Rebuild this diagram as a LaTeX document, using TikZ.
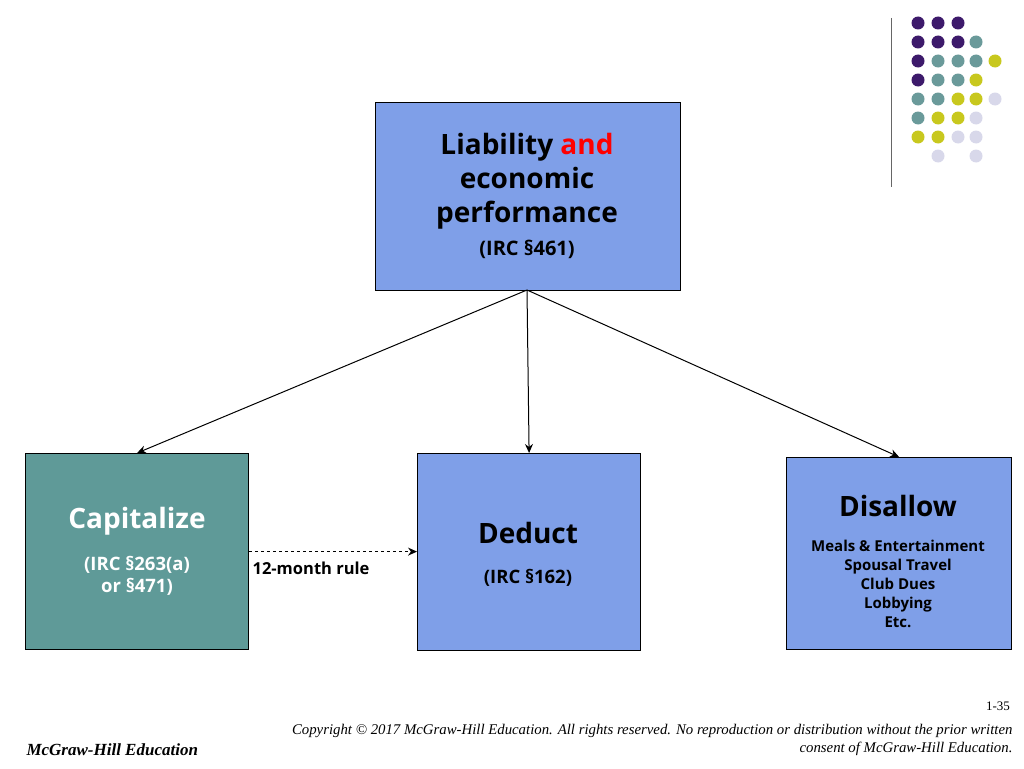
\documentclass[tikz,border=0pt]{standalone}
\usepackage{fontspec}
\setmainfont{Open Sans}
\newfontfamily\footfont{Liberation Serif}
\usetikzlibrary{arrows.meta}
\definecolor{boxblue}{HTML}{7F9FE8}
\definecolor{boxteal}{HTML}{5F9A98}
\definecolor{dotP}{HTML}{3D1A6B}
\definecolor{dotT}{HTML}{6A9A9A}
\definecolor{dotY}{HTML}{C8C81E}
\definecolor{dotL}{HTML}{D8D8EA}
\begin{document}
\begin{tikzpicture}[x=1pt,y=-1pt,font=\bfseries]
  \tikzstyle{box}=[draw=black,line width=1.2,fill=boxblue,align=center,anchor=north west,inner sep=0pt]
  \tikzstyle{link}=[draw,line width=1,-{Stealth[length=9,width=8]}]
  \useasboundingbox (0,0) rectangle (1024,768);
  % dots
  \foreach \c/\x/\y in {P/918/23,P/938/23,P/958/23,
    P/918/42,P/938/42,P/958/42,T/976/42,
    P/918/61,T/938/61,T/958/61,T/976/61,Y/995/61,
    P/918/80,T/938/80,T/958/80,Y/976/80,
    T/918/99,T/938/99,Y/958/99,Y/976/99,L/995/99,
    T/918/118,Y/938/118,Y/958/118,L/976/118,
    Y/918/137,Y/938/137,L/958/137,L/976/137,
    L/938/156,L/976/156}
    \fill[dot\c] (\x,\y) circle (6.5);
  \draw[gray!80!black] (891,18) -- (891,187);
  % boxes
  \node[box,minimum width=305,minimum height=188] (top) at (375,102) {};
  \node[font=\bfseries\fontsize{28}{34}\selectfont,align=center,anchor=north] at (527,130)
    {Liability \textcolor{red}{and}\\economic\\performance};
  \node[font=\bfseries\fontsize{20}{24}\selectfont] at (527,249) {(IRC §461)};
  \node[box,fill=boxteal,minimum width=223,minimum height=196] (cap) at (25,453) {};
  \node[text=white,font=\bfseries\fontsize{28}{30}\selectfont] at (137,521) {Capitalize};
  \node[text=white,align=center,font=\bfseries\fontsize{18.5}{22}\selectfont] at (137,576) {(IRC §263(a)\\or §471)};
  \node[box,minimum width=223,minimum height=197] (ded) at (417,453) {};
  \node[font=\bfseries\fontsize{28}{30}\selectfont] at (528,533) {Deduct};
  \node[font=\bfseries\fontsize{18.5}{22}\selectfont] at (528,578) {(IRC §162)};
  \node[box,minimum width=225,minimum height=192] (dis) at (786,457) {};
  \node[font=\bfseries\fontsize{28}{30}\selectfont] at (898,506) {Disallow};
  \node[align=center,font=\bfseries\fontsize{15}{19}\selectfont,anchor=north] at (898,537)
    {Meals \& Entertainment\\Spousal Travel\\Club Dues\\Lobbying\\Etc.};
  % connectors
  \coordinate (src) at (527,290);
  \path[link] (src) -- (cap.north);
  \path[link] (src) -- (ded.north);
  \path[link] (src) -- (dis.north);
  \path[link,dashed] (cap.east) -- (cap.east -| ded.west);
  \node[font=\bfseries\fontsize{16.5}{18}\selectfont] at (311,568) {12-month rule};
  % footer
  \node[font=\footfont\fontsize{13}{16}\selectfont\mdseries] at (998,706) {1-35};
  \node[font=\footfont\bfseries\itshape\fontsize{17}{18}\selectfont,anchor=west] at (23,750) {McGraw-Hill Education};
  \node[font=\footfont\mdseries\itshape\fontsize{14.8}{18}\selectfont,align=right,anchor=north east] at (1016,721)
    {Copyright © 2017 McGraw-Hill Education. All rights reserved. No reproduction or distribution without the prior written\\consent of McGraw-Hill Education.};
\end{tikzpicture}
\end{document}
